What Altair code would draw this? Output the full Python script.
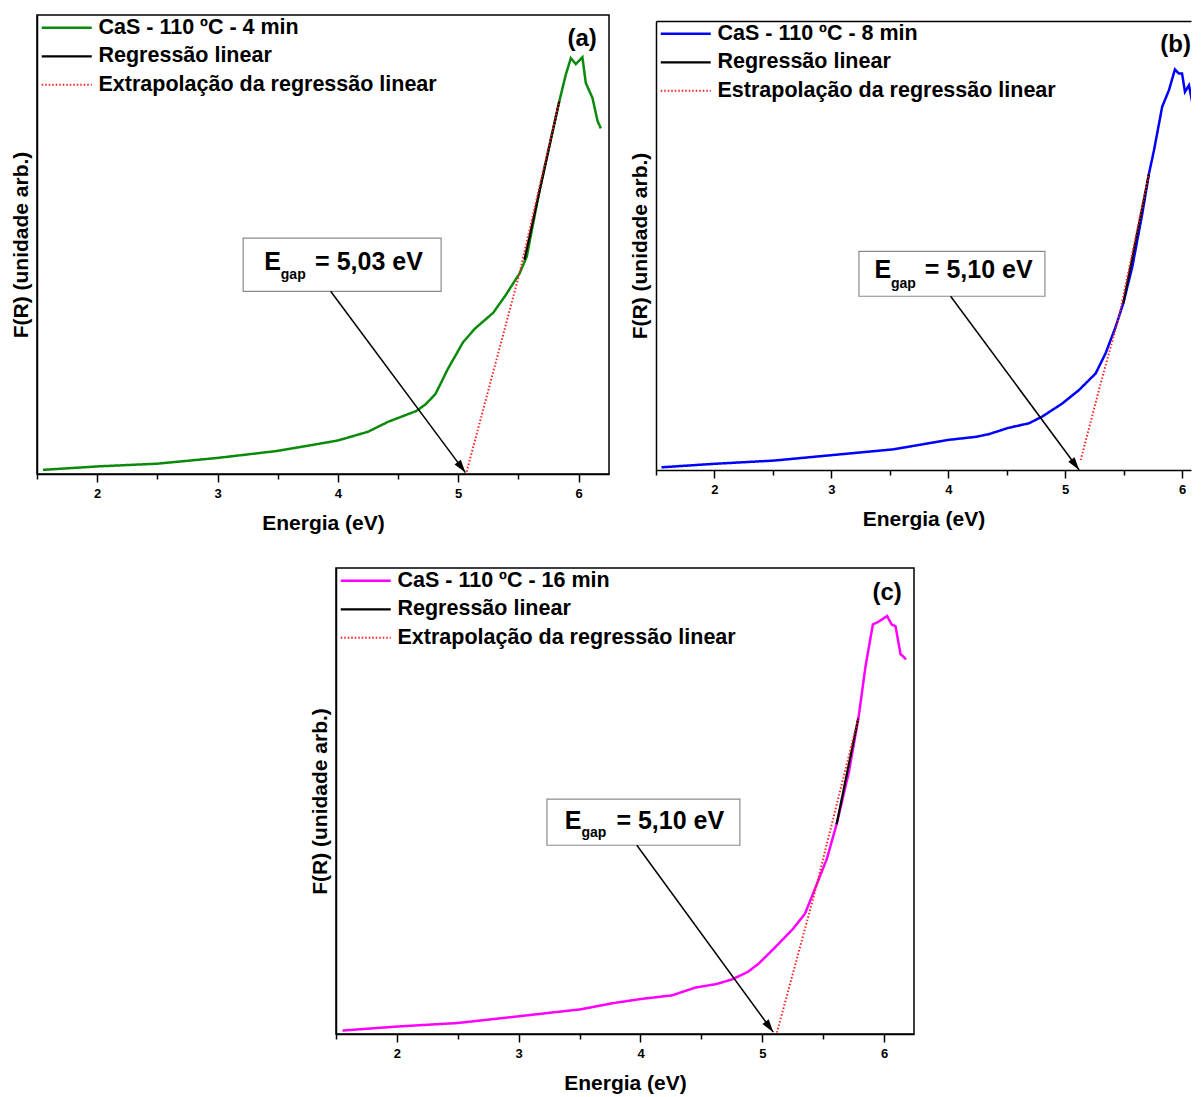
import math
import altair as alt
import pandas as pd

FONT = "Liberation Sans"
XTICKS = [1.5, 2, 2.5, 3, 3.5, 4, 4.5, 5, 5.5, 6]
YTITLE = "F(R) (unidade arb.)"
XTITLE = "Energia (eV)"

# ---------------- Panel (a) : 4 min ----------------
a_names = ["CaS - 110 ºC - 4 min", "Regressão linear", "Extrapolação da regressão linear"]
a_curve_x = [1.55, 2.0, 2.5, 3.0, 3.49, 3.76, 4.0, 4.25, 4.42, 4.65, 4.73, 4.81, 4.86, 4.91,
             5.04, 5.14, 5.29, 5.39, 5.51, 5.57, 5.67, 5.77, 5.84, 5.894, 5.936, 5.977, 6.032,
             6.06, 6.116, 6.158, 6.185]
a_curve_y = [0.009, 0.0165, 0.0225, 0.035, 0.05, 0.062, 0.073, 0.092, 0.114, 0.137, 0.152, 0.174,
             0.20, 0.227, 0.287, 0.317, 0.351, 0.388, 0.437, 0.474, 0.61, 0.73, 0.812, 0.870,
             0.906, 0.893, 0.908, 0.852, 0.819, 0.769, 0.753]
a_reg_x = [5.55, 5.84]
a_reg_y = [0.467, 0.812]
a_ext_x = [5.07, 5.507, 5.84]
a_ext_y = [0.005, 0.435, 0.812]
a_egap = "= 5,03 eV"
a_tag = "(a)"

# ---------------- Panel (b) : 8 min ----------------
b_names = ["CaS - 110 ºC - 8 min", "Regressão linear", "Estrapolação da regressão linear"]
b_curve_x = [1.547, 2.0, 2.51, 3.0, 3.53, 4.0, 4.24, 4.35, 4.51, 4.69, 4.804, 4.975, 5.118,
             5.261, 5.346, 5.432, 5.497, 5.574, 5.66, 5.717, 5.76, 5.83, 5.888, 5.939, 5.973,
             6.0, 6.025, 6.059, 6.10, 6.162]
b_curve_y = [0.006, 0.0138, 0.021, 0.033, 0.046, 0.067, 0.074, 0.080, 0.0935, 0.104, 0.119,
             0.148, 0.178, 0.215, 0.26, 0.319, 0.371, 0.452, 0.571, 0.66, 0.712, 0.809, 0.846,
             0.892, 0.883, 0.883, 0.842, 0.857, 0.801, 0.727]
b_reg_x = [5.497, 5.717]
b_reg_y = [0.371, 0.66]
b_ext_x = [5.133, 5.304, 5.46, 5.717]
b_ext_y = [0.022, 0.193, 0.341, 0.66]
b_egap = "= 5,10 eV"
b_tag = "(b)"

# ---------------- Panel (c) : 16 min ----------------
c_names = ["CaS - 110 ºC - 16 min", "Regressão linear", "Extrapolação da regressão linear"]
c_curve_x = [1.554, 2.0, 2.5, 3.0, 3.51, 3.77, 4.0, 4.26, 4.45, 4.62, 4.75, 4.88, 4.97, 5.10,
             5.25, 5.35, 5.43, 5.53, 5.61, 5.71, 5.79, 5.848, 5.908, 5.95, 6.025, 6.061, 6.094,
             6.135, 6.154, 6.18]
c_curve_y = [0.0074, 0.016, 0.0236, 0.038, 0.053, 0.066, 0.075, 0.083, 0.0996, 0.107, 0.117,
             0.133, 0.151, 0.1845, 0.225, 0.258, 0.31, 0.376, 0.45, 0.561, 0.679, 0.79, 0.879,
             0.884, 0.897, 0.879, 0.875, 0.815, 0.811, 0.804]
c_reg_x = [5.61, 5.787]
c_reg_y = [0.45, 0.677]
c_ext_x = [5.12, 5.43, 5.787]
c_ext_y = [0.003, 0.303, 0.677]
c_egap = "= 5,10 eV"
c_tag = "(c)"

# annotation placement (data coordinates): box x1,x2,y1,y2 ; arrow x0,y0,x1,y1 ;
# text x for "E", "gap", "= ..." ; baselines for "E" and "gap" ; tag x,y
a_ann = dict(box=[3.213, 4.858, 0.398, 0.514], arrow=[3.94, 0.398, 5.06, 0.003],
             tx=[3.388, 3.526, 3.811], ty=[0.4454, 0.4258], tag=[6.03, 0.947])
b_ann = dict(box=[3.236, 4.827, 0.387, 0.487], arrow=[4.02, 0.387, 5.12, 0.0],
             tx=[3.37, 3.51, 3.80], ty=[0.428, 0.405], tag=[5.945, 0.946])
c_ann = dict(box=[3.232, 4.816, 0.405, 0.504], arrow=[3.97, 0.405, 5.09, 0.004],
             tx=[3.378, 3.515, 3.802], ty=[0.4406, 0.422], tag=[6.025, 0.947])

HEAD = "M0,0L-0.6,2L0.6,2Z"
RS = dict(color="independent", strokeDash="independent", strokeWidth="independent")


def build_panel(names, color, cx, cy, rx, ry, ex, ey, egap, tag, ann,
                xmax, width, height, open_right=False):
    pxx = width / (xmax - 1.5)
    pxy = float(height)
    rows = []
    i = 0
    for s, xs_, ys_ in [(names[0], cx, cy), (names[1], rx, ry), (names[2], ex, ey)]:
        for x, y in zip(xs_, ys_):
            rows.append({"x": x, "y": y, "s": s, "i": i})
            i += 1
    df = pd.DataFrame(rows)

    xs = alt.Scale(domain=[1.5, xmax], nice=False, zero=False)
    ys = alt.Scale(domain=[0, 1], nice=False, zero=False)

    xaxis = alt.Axis(values=XTICKS,
                     labelExpr="datum.value % 1 == 0 ? format(datum.value, 'd') : ''",
                     title=XTITLE, titleFont=FONT, titleFontSize=21, titleFontWeight="bold",
                     titleColor="black", titlePadding=12,
                     labelFont=FONT, labelFontSize=13, labelFontWeight="bold",
                     labelColor="black", labelPadding=5, labelFlush=False, labelOverlap=False,
                     tickSize={"condition": {"test": "datum.value % 1 === 0", "value": 8},
                               "value": 5},
                     tickWidth=1.5, tickColor="black",
                     domainColor="black", domainWidth=1.5, grid=False)
    yaxis = alt.Axis(labels=False, ticks=False, grid=False, title=YTITLE,
                     titleFont=FONT, titleFontSize=21, titleFontWeight="bold",
                     titleColor="black", titlePadding=6,
                     domainColor="black", domainWidth=1.5)

    def X(f):
        return alt.X(f, scale=xs, axis=xaxis)

    def Y(f):
        return alt.Y(f, scale=ys, axis=yaxis)

    leg = alt.Legend(title=None, orient="none", legendX=19, legendY=2,
                     symbolType="M-5,0L5,0", symbolSize=100, labelOffset=21,
                     labelFont=FONT, labelFontSize=21.5, labelFontWeight="bold",
                     labelColor="black", labelLimit=800, rowPadding=5.5, padding=0)

    lines = alt.Chart(df).mark_line(clip=True).encode(
        x=X("x:Q"),
        y=Y("y:Q"),
        color=alt.Color("s:N", scale=alt.Scale(domain=names, range=[color, "black", "#ff2020"]),
                        legend=leg),
        strokeDash=alt.StrokeDash("s:N", scale=alt.Scale(domain=names,
                                                          range=[[1, 0], [1, 0], [1.5, 2]]),
                                  legend=leg),
        strokeWidth=alt.StrokeWidth("s:N", scale=alt.Scale(domain=names, range=[2.5, 2, 1]),
                                    legend=leg),
        order=alt.Order("i:Q"),
    )

    bx = ann["box"]
    box = alt.Chart(pd.DataFrame([{"x1": bx[0], "x2": bx[1], "y1": bx[2], "y2": bx[3]}])).mark_rect(
        fill="white", stroke="#8a8a8a", strokeWidth=1.2
    ).encode(x=X("x1:Q"), x2="x2:Q", y=Y("y1:Q"), y2="y2:Q")

    ar = ann["arrow"]
    ang = math.degrees(math.atan2((ar[2] - ar[0]) * pxx, (ar[3] - ar[1]) * pxy)) % 360
    adf = pd.DataFrame([{"x0": ar[0], "y0": ar[1], "x1": ar[2], "y1": ar[3], "ang": ang}])
    rule = alt.Chart(adf).mark_rule(color="black", strokeWidth=1.5).encode(
        x=X("x0:Q"), y=Y("y0:Q"), x2="x1:Q", y2="y1:Q")
    head = alt.Chart(adf).mark_point(shape=HEAD, filled=True, color="black", size=169,
                                     opacity=1).encode(
        x=X("x1:Q"), y=Y("y1:Q"), angle=alt.Angle("ang:Q", scale=None))

    tx, ty = ann["tx"], ann["ty"]
    tdf = pd.DataFrame([
        {"x": tx[0], "y": ty[0], "t": "E", "k": "big"},
        {"x": tx[1], "y": ty[1], "t": "gap", "k": "small"},
        {"x": tx[2], "y": ty[0], "t": egap, "k": "big"},
    ])
    t_big = alt.Chart(tdf).transform_filter("datum.k == 'big'").mark_text(
        font=FONT, fontSize=25, fontWeight="bold", color="black", align="left",
        baseline="alphabetic").encode(x=X("x:Q"), y=Y("y:Q"), text="t:N")
    t_small = alt.Chart(tdf).transform_filter("datum.k == 'small'").mark_text(
        font=FONT, fontSize=14, fontWeight="bold", color="black", align="left",
        baseline="alphabetic").encode(x=X("x:Q"), y=Y("y:Q"), text="t:N")

    tg = ann["tag"]
    tag_df = pd.DataFrame([{"x": tg[0], "y": tg[1], "t": tag}])
    tag_mark = dict(font=FONT, fontSize=24, fontWeight="bold", color="black", align="center",
                    baseline="middle")

    if not open_right:
        tagc = alt.Chart(tag_df).mark_text(**tag_mark).encode(x=X("x:Q"), y=Y("y:Q"), text="t:N")
        return alt.layer(lines, box, rule, head, t_big, t_small, tagc).properties(
            width=width, height=height)

    inner = alt.layer(lines, box, rule, head, t_big, t_small)
    top_axis = alt.Axis(orient="top", labels=False, ticks=False, grid=False, title=None,
                        domain=True, domainColor="black", domainWidth=1.5)
    tagc = alt.Chart(tag_df).mark_text(**tag_mark).encode(
        x=alt.X("x:Q", scale=xs, axis=top_axis), y=Y("y:Q"), text="t:N")
    return alt.layer(inner, tagc).resolve_axis(x="independent").properties(
        width=width, height=height, view=alt.ViewBackground(stroke="transparent"))


def blank(w, h):
    # empty, invisible block used only to offset a panel inside the page layout
    return alt.Chart(pd.DataFrame({"v": [0]})).mark_rect(opacity=0).properties(
        width=w, height=h, view=alt.ViewBackground(stroke="transparent"))


pa = build_panel(a_names, "#0a8a0a", a_curve_x, a_curve_y, a_reg_x, a_reg_y, a_ext_x, a_ext_y,
                 a_egap, a_tag, a_ann, xmax=6.253, width=572, height=459)
pb = build_panel(b_names, "#0000ff", b_curve_x, b_curve_y, b_reg_x, b_reg_y, b_ext_x, b_ext_y,
                 b_egap, b_tag, b_ann, xmax=6.0766, width=535, height=449, open_right=True)
pc = build_panel(c_names, "#ff00ff", c_curve_x, c_curve_y, c_reg_x, c_reg_y, c_ext_x, c_ext_y,
                 c_egap, c_tag, c_ann, xmax=6.2455, width=578, height=466)

pb_col = alt.vconcat(blank(1, 1), pb, spacing=3).resolve_scale(**RS).resolve_legend(**RS)
pc_row = alt.hconcat(blank(264, 1), pc, spacing=6).resolve_scale(**RS).resolve_legend(**RS)

top = alt.hconcat(pa, pb_col, spacing=18).resolve_scale(**RS).resolve_legend(**RS)
chart = alt.vconcat(top, pc_row, spacing=33).resolve_scale(**RS).resolve_legend(**RS)
chart = chart.properties(
    padding={"left": 1, "top": 6, "right": 0, "bottom": 0},
    background="white",
).configure(font=FONT).configure_view(stroke="black", strokeWidth=1.5)

chart.save("out.html", embed_options={"renderer": "svg", "actions": False})
